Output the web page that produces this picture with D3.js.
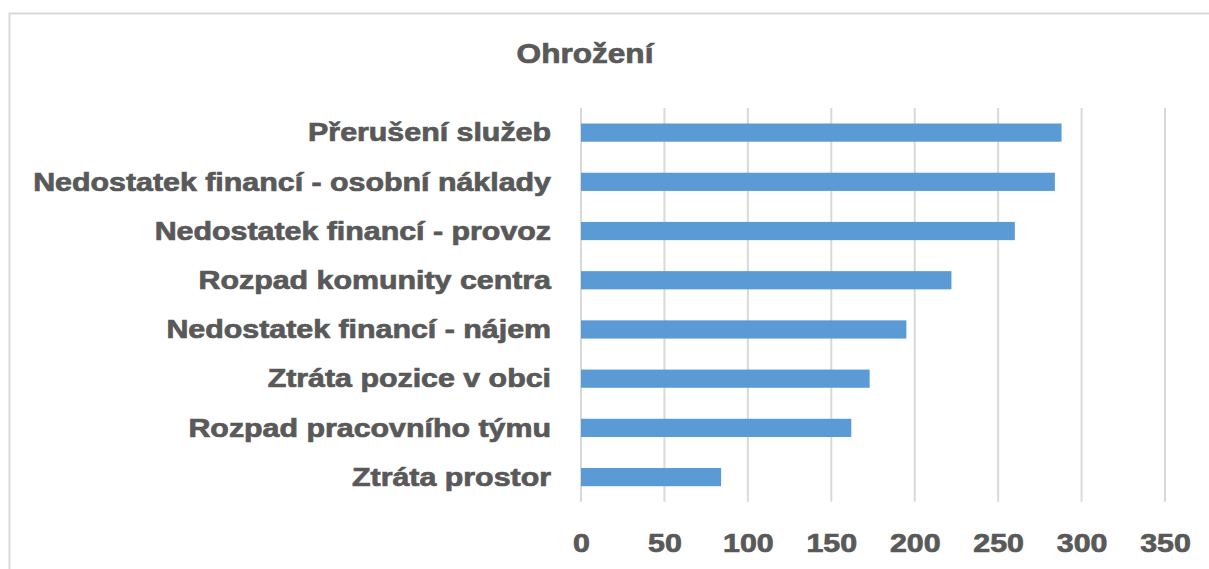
<!DOCTYPE html>
<html><head><meta charset="utf-8">
<script src="https://cdn.jsdelivr.net/npm/d3@7"></script>
<style>body{margin:0;background:#fff}svg{display:block}text{font-family:"Liberation Sans",Arial,sans-serif;font-weight:bold;fill:#595959;stroke:#595959;stroke-width:0.7px}</style>
</head><body>
<script>
const categories = ["Přerušení služeb","Nedostatek financí - osobní náklady","Nedostatek financí - provoz","Rozpad komunity centra","Nedostatek financí - nájem","Ztráta pozice v obci","Rozpad pracovního týmu","Ztráta prostor"];
const values = [288,284,260,222,195,173,162,84];
const xTicks = [0,50,100,150,200,250,300,350];
const title = "Ohrožení";

const W=1209,H=569,SX=1.215;
const svg=d3.select("body").append("svg").attr("width",W).attr("height",H);
svg.append("rect").attr("width",W).attr("height",H).attr("fill","#fff");
// frame
svg.append("path").attr("d",`M9.5,${H} L9.5,13.5 L${W},13.5`).attr("fill","none").attr("stroke","#D9D9D9").attr("stroke-width",2);

const x=d3.scaleLinear().domain([0,350]).range([581,1165]);
const y=d3.scaleBand().domain(categories).range([108,501.7]).paddingInner(0.63).paddingOuter(0.315);

svg.append("text").attr("transform",`translate(585,63) scale(1.17,1)`).attr("text-anchor","middle").style("font-size","27px").text(title);

// grid
svg.append("g").selectAll("line").data(xTicks).join("line")
 .attr("x1",d=>x(d)).attr("x2",d=>x(d)).attr("y1",108).attr("y2",501.7)
 .attr("stroke","#D9D9D9").attr("stroke-width",2);

// bars
svg.append("g").selectAll("rect").data(values).join("rect")
 .attr("x",x(0)).attr("y",(d,i)=>y(categories[i])).attr("width",d=>x(d)-x(0)).attr("height",y.bandwidth()).attr("fill","#5B9BD5");

// x axis
const gx=svg.append("g").attr("transform","translate(0,543)").call(d3.axisBottom(x).tickValues(xTicks).tickSize(0).tickPadding(0));
gx.select(".domain").remove();
gx.selectAll("text").attr("y",null).attr("dy","0.35em").attr("transform",`scale(${SX},1)`).style("font-size","25px").attr("fill","#595959");

// y axis
const gy=svg.append("g").attr("transform",`translate(${x(0)},0)`).call(d3.axisLeft(y).tickSize(0).tickPadding(0));
gy.select(".domain").remove();
gy.selectAll("text").attr("x",null).attr("dy","0.35em").attr("transform",`translate(-30,0) scale(${SX},1)`).style("font-size","25px").attr("fill","#595959").attr("text-anchor","end");
</script>
</body></html>
